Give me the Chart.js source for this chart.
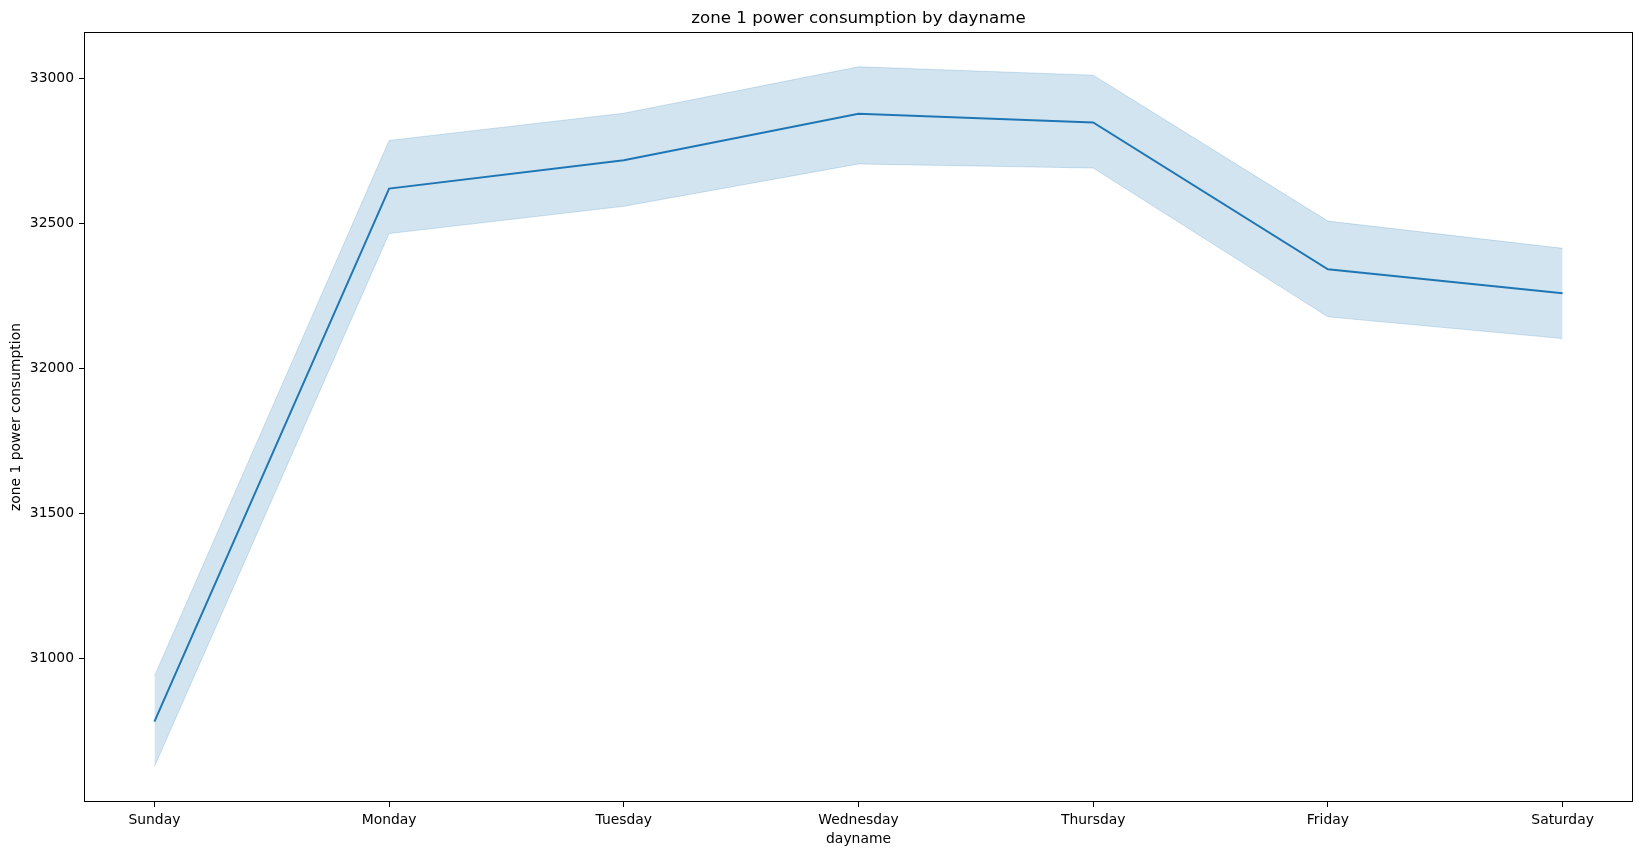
<!DOCTYPE html>
<html>
<head>
<meta charset="utf-8">
<script src="https://cdn.jsdelivr.net/npm/chart.js@4"></script>
<style>
  html, body { margin: 0; padding: 0; background: #fff; }
  #wrap { width: 1643px; height: 855px; }
</style>
</head>
<body>
<div id="wrap"><canvas id="chart" width="1643" height="855"></canvas></div>
<script>
// day names along x
const days = ['Sunday', 'Monday', 'Tuesday', 'Wednesday', 'Thursday', 'Friday', 'Saturday'];
// mean zone 1 consumption per day
const meanVals = [30781, 32619, 32717, 32877, 32847, 32341, 32258];
// confidence band
const upperVals = [30938, 32785, 32879, 33039, 33010, 32507, 32413];
const lowerVals = [30626, 32464, 32558, 32704, 32690, 32177, 32102];
const yTicks = [31000, 31500, 32000, 32500, 33000];

const FONT = "'DejaVu Sans', sans-serif";

const toPts = arr => arr.map((v, i) => ({ x: i, y: v }));

// title, axis titles and the full frame, drawn like matplotlib
const decor = {
  id: 'decor',
  afterDraw(chart) {
    const { ctx, chartArea: a } = chart;
    ctx.save();
    ctx.strokeStyle = '#000';
    ctx.lineWidth = 1;
    ctx.strokeRect(a.left + 0.5, a.top + 0.5, a.right - a.left - 1, a.bottom - a.top - 1);
    ctx.fillStyle = '#000';
    ctx.textAlign = 'center';
    ctx.textBaseline = 'middle';
    const cx = (a.left + a.right) / 2;
    ctx.font = '16.67px ' + FONT;
    ctx.fillText('zone 1 power consumption by dayname', cx, 19);
    ctx.font = '13.89px ' + FONT;
    ctx.fillText('dayname', cx, 839);
    ctx.translate(16, (a.top + a.bottom) / 2);
    ctx.rotate(-Math.PI / 2);
    ctx.fillText('zone 1 power consumption', 0, 0);
    ctx.restore();
  }
};

new Chart(document.getElementById('chart'), {
  type: 'line',
  data: {
    datasets: [
      {
        label: 'upper',
        data: toPts(upperVals),
        borderColor: 'rgba(31,119,180,0.2)',
        borderWidth: 1,
        pointRadius: 0,
        fill: false,
      },
      {
        label: 'lower',
        data: toPts(lowerVals),
        borderColor: 'rgba(31,119,180,0.2)',
        backgroundColor: 'rgba(31,119,180,0.2)',
        borderWidth: 1,
        pointRadius: 0,
        fill: '-1',
      },
      {
        label: 'mean',
        data: toPts(meanVals),
        borderColor: '#1f77b4',
        borderWidth: 2,
        pointRadius: 0,
        fill: false,
      },
    ],
  },
  options: {
    responsive: false,
    animation: false,
    events: [],
    layout: { padding: { left: 0, top: 32, right: 10, bottom: 0 } },
    plugins: {
      legend: { display: false },
      tooltip: { enabled: false },
    },
    scales: {
      x: {
        type: 'linear',
        min: -0.3,
        max: 6.3,
        afterFit: s => { s.height = 53; },
        afterBuildTicks: s => { s.ticks = days.map((d, i) => ({ value: i })); },
        ticks: {
          callback: v => days[v],
          color: '#000',
          font: { family: FONT, size: 13.89 },
          padding: 5,
          maxRotation: 0,
          autoSkip: false,
        },
        grid: { drawOnChartArea: false, tickLength: 5, color: '#000' },
        border: { display: false },
      },
      y: {
        type: 'linear',
        min: 30504,
        max: 33159,
        afterFit: s => { s.width = 84; },
        afterBuildTicks: s => { s.ticks = yTicks.map(v => ({ value: v })); },
        ticks: {
          callback: v => String(v),
          color: '#000',
          font: { family: FONT, size: 13.89 },
          padding: 5,
        },
        grid: { drawOnChartArea: false, tickLength: 5, color: '#000' },
        border: { display: false },
      },
    },
  },
  plugins: [decor],
});
</script>
</body>
</html>
